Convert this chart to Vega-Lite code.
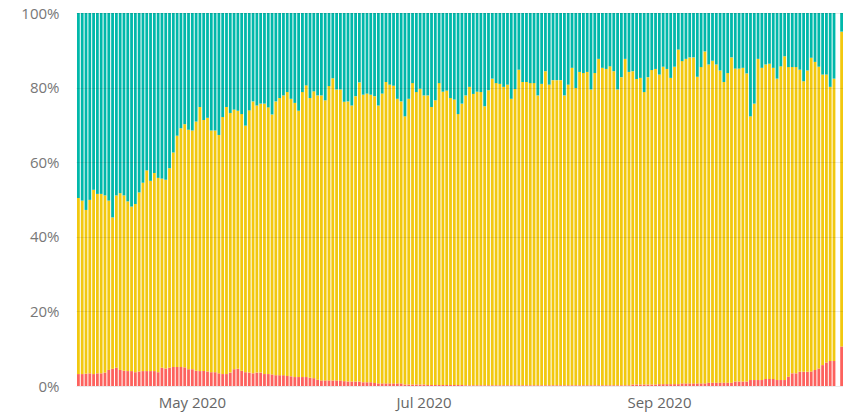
{
  "$schema": "https://vega.github.io/schema/vega-lite/v6.json",
  "autosize": "none",
  "width": 767,
  "height": 373,
  "padding": {"left": 76, "top": 13, "right": 0, "bottom": 28},
  "background": "white",
  "config": {"view": {"stroke": null}, "bar": {"binSpacing": 1}},
  "data": {"values": [
    {"d":"2020-04-01T00:00","s1":3.2,"s2":47.2,"s3":49.6},
    {"d":"2020-04-02T00:00","s1":3.2,"s2":46.5,"s3":50.3},
    {"d":"2020-04-03T00:00","s1":3.3,"s2":43.9,"s3":52.8},
    {"d":"2020-04-04T00:00","s1":3.4,"s2":46.5,"s3":50.1},
    {"d":"2020-04-05T00:00","s1":3.2,"s2":49.4,"s3":47.4},
    {"d":"2020-04-06T00:00","s1":3.4,"s2":48.1,"s3":48.5},
    {"d":"2020-04-07T00:00","s1":3.4,"s2":48.1,"s3":48.5},
    {"d":"2020-04-08T00:00","s1":3.6,"s2":47.5,"s3":48.9},
    {"d":"2020-04-09T00:00","s1":4.3,"s2":45.4,"s3":50.3},
    {"d":"2020-04-10T00:00","s1":4.6,"s2":40.6,"s3":54.8},
    {"d":"2020-04-11T00:00","s1":4.9,"s2":46.2,"s3":48.9},
    {"d":"2020-04-12T00:00","s1":4.3,"s2":47.4,"s3":48.3},
    {"d":"2020-04-13T00:00","s1":4.1,"s2":47.0,"s3":48.9},
    {"d":"2020-04-14T00:00","s1":4.0,"s2":45.5,"s3":50.5},
    {"d":"2020-04-15T00:00","s1":4.0,"s2":44.1,"s3":51.9},
    {"d":"2020-04-16T00:00","s1":3.7,"s2":45.1,"s3":51.2},
    {"d":"2020-04-17T00:00","s1":3.9,"s2":48.0,"s3":48.1},
    {"d":"2020-04-18T00:00","s1":4.0,"s2":50.5,"s3":45.5},
    {"d":"2020-04-19T00:00","s1":4.0,"s2":53.8,"s3":42.2},
    {"d":"2020-04-20T00:00","s1":4.0,"s2":51.0,"s3":45.0},
    {"d":"2020-04-21T00:00","s1":4.0,"s2":53.1,"s3":42.9},
    {"d":"2020-04-22T00:00","s1":3.7,"s2":52.1,"s3":44.2},
    {"d":"2020-04-23T00:00","s1":4.9,"s2":50.7,"s3":44.4},
    {"d":"2020-04-24T00:00","s1":4.7,"s2":50.6,"s3":44.7},
    {"d":"2020-04-25T00:00","s1":4.9,"s2":53.5,"s3":41.6},
    {"d":"2020-04-26T00:00","s1":5.1,"s2":57.5,"s3":37.4},
    {"d":"2020-04-27T00:00","s1":5.1,"s2":62.0,"s3":32.9},
    {"d":"2020-04-28T00:00","s1":5.1,"s2":64.0,"s3":30.9},
    {"d":"2020-04-29T00:00","s1":5.0,"s2":65.2,"s3":29.8},
    {"d":"2020-04-30T00:00","s1":4.5,"s2":64.2,"s3":31.3},
    {"d":"2020-05-01T00:00","s1":4.5,"s2":64.0,"s3":31.5},
    {"d":"2020-05-02T00:00","s1":4.1,"s2":66.8,"s3":29.1},
    {"d":"2020-05-03T00:00","s1":4.0,"s2":70.8,"s3":25.2},
    {"d":"2020-05-04T00:00","s1":4.0,"s2":67.3,"s3":28.7},
    {"d":"2020-05-05T00:00","s1":3.9,"s2":68.0,"s3":28.1},
    {"d":"2020-05-06T00:00","s1":3.7,"s2":64.8,"s3":31.5},
    {"d":"2020-05-07T00:00","s1":3.7,"s2":64.8,"s3":31.5},
    {"d":"2020-05-08T00:00","s1":3.4,"s2":63.9,"s3":32.7},
    {"d":"2020-05-09T00:00","s1":3.2,"s2":68.9,"s3":27.9},
    {"d":"2020-05-10T00:00","s1":3.2,"s2":71.6,"s3":25.2},
    {"d":"2020-05-11T00:00","s1":3.6,"s2":69.6,"s3":26.8},
    {"d":"2020-05-12T00:00","s1":4.5,"s2":69.6,"s3":25.9},
    {"d":"2020-05-13T00:00","s1":4.6,"s2":69.2,"s3":26.2},
    {"d":"2020-05-14T00:00","s1":4.1,"s2":68.8,"s3":27.1},
    {"d":"2020-05-15T00:00","s1":3.7,"s2":66.1,"s3":30.2},
    {"d":"2020-05-16T00:00","s1":3.6,"s2":70.3,"s3":26.1},
    {"d":"2020-05-17T00:00","s1":3.4,"s2":72.9,"s3":23.7},
    {"d":"2020-05-18T00:00","s1":3.6,"s2":71.6,"s3":24.8},
    {"d":"2020-05-19T00:00","s1":3.6,"s2":72.1,"s3":24.3},
    {"d":"2020-05-20T00:00","s1":3.2,"s2":72.5,"s3":24.3},
    {"d":"2020-05-21T00:00","s1":3.2,"s2":71.5,"s3":25.3},
    {"d":"2020-05-22T00:00","s1":3.1,"s2":69.7,"s3":27.2},
    {"d":"2020-05-23T00:00","s1":2.9,"s2":73.4,"s3":23.7},
    {"d":"2020-05-24T00:00","s1":2.9,"s2":74.3,"s3":22.8},
    {"d":"2020-05-25T00:00","s1":2.9,"s2":75.0,"s3":22.1},
    {"d":"2020-05-26T00:00","s1":2.7,"s2":76.1,"s3":21.2},
    {"d":"2020-05-27T00:00","s1":2.6,"s2":74.4,"s3":23.0},
    {"d":"2020-05-28T00:00","s1":2.4,"s2":73.5,"s3":24.1},
    {"d":"2020-05-29T00:00","s1":2.4,"s2":71.4,"s3":26.2},
    {"d":"2020-05-30T00:00","s1":2.4,"s2":76.4,"s3":21.2},
    {"d":"2020-05-31T00:00","s1":2.4,"s2":78.2,"s3":19.4},
    {"d":"2020-06-01T00:00","s1":2.2,"s2":75.0,"s3":22.8},
    {"d":"2020-06-02T00:00","s1":2.1,"s2":76.9,"s3":21.0},
    {"d":"2020-06-03T00:00","s1":1.7,"s2":76.2,"s3":22.1},
    {"d":"2020-06-04T00:00","s1":1.5,"s2":76.4,"s3":22.1},
    {"d":"2020-06-05T00:00","s1":1.5,"s2":75.1,"s3":23.4},
    {"d":"2020-06-06T00:00","s1":1.5,"s2":78.9,"s3":19.6},
    {"d":"2020-06-07T00:00","s1":1.5,"s2":81.0,"s3":17.5},
    {"d":"2020-06-08T00:00","s1":1.5,"s2":78.0,"s3":20.5},
    {"d":"2020-06-09T00:00","s1":1.5,"s2":78.0,"s3":20.5},
    {"d":"2020-06-10T00:00","s1":1.3,"s2":74.9,"s3":23.8},
    {"d":"2020-06-11T00:00","s1":1.2,"s2":75.1,"s3":23.7},
    {"d":"2020-06-12T00:00","s1":1.2,"s2":74.0,"s3":24.8},
    {"d":"2020-06-13T00:00","s1":1.2,"s2":76.5,"s3":22.3},
    {"d":"2020-06-14T00:00","s1":1.2,"s2":80.2,"s3":18.6},
    {"d":"2020-06-15T00:00","s1":1.0,"s2":77.1,"s3":21.9},
    {"d":"2020-06-16T00:00","s1":1.0,"s2":77.4,"s3":21.6},
    {"d":"2020-06-17T00:00","s1":1.0,"s2":77.1,"s3":21.9},
    {"d":"2020-06-18T00:00","s1":0.8,"s2":76.9,"s3":22.3},
    {"d":"2020-06-19T00:00","s1":0.7,"s2":74.5,"s3":24.8},
    {"d":"2020-06-20T00:00","s1":0.7,"s2":77.7,"s3":21.6},
    {"d":"2020-06-21T00:00","s1":0.7,"s2":80.8,"s3":18.5},
    {"d":"2020-06-22T00:00","s1":0.7,"s2":80.1,"s3":19.2},
    {"d":"2020-06-23T00:00","s1":0.7,"s2":79.8,"s3":19.5},
    {"d":"2020-06-24T00:00","s1":0.7,"s2":76.3,"s3":23.0},
    {"d":"2020-06-25T00:00","s1":0.7,"s2":75.6,"s3":23.7},
    {"d":"2020-06-26T00:00","s1":0.4,"s2":71.9,"s3":27.7},
    {"d":"2020-06-27T00:00","s1":0.4,"s2":76.6,"s3":23.0},
    {"d":"2020-06-28T00:00","s1":0.4,"s2":80.8,"s3":18.8},
    {"d":"2020-06-29T00:00","s1":0.4,"s2":78.4,"s3":21.2},
    {"d":"2020-06-30T00:00","s1":0.4,"s2":79.3,"s3":20.3},
    {"d":"2020-07-01T00:00","s1":0.4,"s2":77.5,"s3":22.1},
    {"d":"2020-07-02T00:00","s1":0.3,"s2":77.6,"s3":22.1},
    {"d":"2020-07-03T00:00","s1":0.3,"s2":74.5,"s3":25.2},
    {"d":"2020-07-04T00:00","s1":0.3,"s2":76.3,"s3":23.4},
    {"d":"2020-07-05T00:00","s1":0.3,"s2":80.9,"s3":18.8},
    {"d":"2020-07-06T00:00","s1":0.3,"s2":78.6,"s3":21.1},
    {"d":"2020-07-07T00:00","s1":0.3,"s2":78.9,"s3":20.8},
    {"d":"2020-07-08T00:00","s1":0.3,"s2":76.9,"s3":22.8},
    {"d":"2020-07-09T00:00","s1":0.3,"s2":76.5,"s3":23.2},
    {"d":"2020-07-10T00:00","s1":0.3,"s2":72.6,"s3":27.1},
    {"d":"2020-07-11T00:00","s1":0.3,"s2":75.4,"s3":24.3},
    {"d":"2020-07-12T00:00","s1":0.2,"s2":77.7,"s3":22.1},
    {"d":"2020-07-13T00:00","s1":0.2,"s2":80.0,"s3":19.8},
    {"d":"2020-07-14T00:00","s1":0.2,"s2":78.1,"s3":21.7},
    {"d":"2020-07-15T00:00","s1":0.2,"s2":78.7,"s3":21.1},
    {"d":"2020-07-16T00:00","s1":0.2,"s2":78.6,"s3":21.2},
    {"d":"2020-07-17T00:00","s1":0.2,"s2":74.8,"s3":25.0},
    {"d":"2020-07-18T00:00","s1":0.2,"s2":79.1,"s3":20.7},
    {"d":"2020-07-19T00:00","s1":0.2,"s2":82.2,"s3":17.6},
    {"d":"2020-07-20T00:00","s1":0.2,"s2":81.0,"s3":18.8},
    {"d":"2020-07-21T00:00","s1":0.2,"s2":80.8,"s3":19.0},
    {"d":"2020-07-22T00:00","s1":0.2,"s2":80.0,"s3":19.8},
    {"d":"2020-07-23T00:00","s1":0.2,"s2":80.6,"s3":19.2},
    {"d":"2020-07-24T00:00","s1":0.2,"s2":76.8,"s3":23.0},
    {"d":"2020-07-25T00:00","s1":0.2,"s2":79.4,"s3":20.4},
    {"d":"2020-07-26T00:00","s1":0.2,"s2":84.6,"s3":15.2},
    {"d":"2020-07-27T00:00","s1":0.2,"s2":81.3,"s3":18.5},
    {"d":"2020-07-28T00:00","s1":0.2,"s2":81.3,"s3":18.5},
    {"d":"2020-07-29T00:00","s1":0.2,"s2":81.0,"s3":18.8},
    {"d":"2020-07-30T00:00","s1":0.2,"s2":81.0,"s3":18.8},
    {"d":"2020-07-31T00:00","s1":0.2,"s2":77.7,"s3":22.1},
    {"d":"2020-08-01T00:00","s1":0.2,"s2":80.8,"s3":19.0},
    {"d":"2020-08-02T00:00","s1":0.2,"s2":84.2,"s3":15.6},
    {"d":"2020-08-03T00:00","s1":0.2,"s2":80.6,"s3":19.2},
    {"d":"2020-08-04T00:00","s1":0.2,"s2":81.8,"s3":18.0},
    {"d":"2020-08-05T00:00","s1":0.2,"s2":81.8,"s3":18.0},
    {"d":"2020-08-06T00:00","s1":0.2,"s2":81.8,"s3":18.0},
    {"d":"2020-08-07T00:00","s1":0.2,"s2":77.7,"s3":22.1},
    {"d":"2020-08-08T00:00","s1":0.2,"s2":80.6,"s3":19.2},
    {"d":"2020-08-09T00:00","s1":0.2,"s2":85.1,"s3":14.7},
    {"d":"2020-08-10T00:00","s1":0.2,"s2":79.7,"s3":20.1},
    {"d":"2020-08-11T00:00","s1":0.2,"s2":84.0,"s3":15.8},
    {"d":"2020-08-12T00:00","s1":0.2,"s2":83.7,"s3":16.1},
    {"d":"2020-08-13T00:00","s1":0.2,"s2":84.0,"s3":15.8},
    {"d":"2020-08-14T00:00","s1":0.2,"s2":79.3,"s3":20.5},
    {"d":"2020-08-15T00:00","s1":0.2,"s2":83.7,"s3":16.1},
    {"d":"2020-08-16T00:00","s1":0.2,"s2":87.5,"s3":12.3},
    {"d":"2020-08-17T00:00","s1":0.2,"s2":85.1,"s3":14.7},
    {"d":"2020-08-18T00:00","s1":0.2,"s2":84.8,"s3":15.0},
    {"d":"2020-08-19T00:00","s1":0.2,"s2":85.5,"s3":14.3},
    {"d":"2020-08-20T00:00","s1":0.2,"s2":84.2,"s3":15.6},
    {"d":"2020-08-21T00:00","s1":0.2,"s2":79.3,"s3":20.5},
    {"d":"2020-08-22T00:00","s1":0.2,"s2":82.6,"s3":17.2},
    {"d":"2020-08-23T00:00","s1":0.2,"s2":87.5,"s3":12.3},
    {"d":"2020-08-24T00:00","s1":0.2,"s2":84.0,"s3":15.8},
    {"d":"2020-08-25T00:00","s1":0.4,"s2":84.0,"s3":15.6},
    {"d":"2020-08-26T00:00","s1":0.4,"s2":81.9,"s3":17.7},
    {"d":"2020-08-27T00:00","s1":0.4,"s2":82.2,"s3":17.4},
    {"d":"2020-08-28T00:00","s1":0.4,"s2":78.4,"s3":21.2},
    {"d":"2020-08-29T00:00","s1":0.4,"s2":82.4,"s3":17.2},
    {"d":"2020-08-30T00:00","s1":0.4,"s2":84.3,"s3":15.3},
    {"d":"2020-08-31T00:00","s1":0.4,"s2":84.6,"s3":15.0},
    {"d":"2020-09-01T00:00","s1":0.5,"s2":83.0,"s3":16.5},
    {"d":"2020-09-02T00:00","s1":0.5,"s2":85.1,"s3":14.4},
    {"d":"2020-09-03T00:00","s1":0.5,"s2":84.5,"s3":15.0},
    {"d":"2020-09-04T00:00","s1":0.5,"s2":82.1,"s3":17.4},
    {"d":"2020-09-05T00:00","s1":0.5,"s2":85.1,"s3":14.4},
    {"d":"2020-09-06T00:00","s1":0.5,"s2":89.7,"s3":9.8},
    {"d":"2020-09-07T00:00","s1":0.7,"s2":86.4,"s3":12.9},
    {"d":"2020-09-08T00:00","s1":0.7,"s2":87.0,"s3":12.3},
    {"d":"2020-09-09T00:00","s1":0.7,"s2":87.4,"s3":11.9},
    {"d":"2020-09-10T00:00","s1":0.7,"s2":87.4,"s3":11.9},
    {"d":"2020-09-11T00:00","s1":0.7,"s2":82.2,"s3":17.1},
    {"d":"2020-09-12T00:00","s1":0.7,"s2":84.8,"s3":14.5},
    {"d":"2020-09-13T00:00","s1":0.7,"s2":89.0,"s3":10.3},
    {"d":"2020-09-14T00:00","s1":0.9,"s2":85.3,"s3":13.8},
    {"d":"2020-09-15T00:00","s1":0.9,"s2":86.3,"s3":12.8},
    {"d":"2020-09-16T00:00","s1":0.9,"s2":85.3,"s3":13.8},
    {"d":"2020-09-17T00:00","s1":0.9,"s2":83.7,"s3":15.4},
    {"d":"2020-09-18T00:00","s1":0.9,"s2":80.6,"s3":18.5},
    {"d":"2020-09-19T00:00","s1":0.9,"s2":83.0,"s3":16.1},
    {"d":"2020-09-20T00:00","s1":0.9,"s2":87.2,"s3":11.9},
    {"d":"2020-09-21T00:00","s1":1.2,"s2":83.9,"s3":14.9},
    {"d":"2020-09-22T00:00","s1":1.2,"s2":83.9,"s3":14.9},
    {"d":"2020-09-23T00:00","s1":1.2,"s2":84.1,"s3":14.7},
    {"d":"2020-09-24T00:00","s1":1.2,"s2":82.6,"s3":16.2},
    {"d":"2020-09-25T00:00","s1":1.6,"s2":70.7,"s3":27.7},
    {"d":"2020-09-26T00:00","s1":1.6,"s2":74.1,"s3":24.3},
    {"d":"2020-09-27T00:00","s1":1.6,"s2":86.1,"s3":12.3},
    {"d":"2020-09-28T00:00","s1":1.6,"s2":83.7,"s3":14.7},
    {"d":"2020-09-29T00:00","s1":1.9,"s2":84.3,"s3":13.8},
    {"d":"2020-09-30T00:00","s1":1.9,"s2":84.5,"s3":13.6},
    {"d":"2020-10-01T00:00","s1":1.9,"s2":83.4,"s3":14.7},
    {"d":"2020-10-02T00:00","s1":1.6,"s2":80.8,"s3":17.6},
    {"d":"2020-10-03T00:00","s1":1.6,"s2":84.1,"s3":14.3},
    {"d":"2020-10-04T00:00","s1":1.6,"s2":86.8,"s3":11.6},
    {"d":"2020-10-05T00:00","s1":2.5,"s2":83.0,"s3":14.5},
    {"d":"2020-10-06T00:00","s1":3.4,"s2":82.1,"s3":14.5},
    {"d":"2020-10-07T00:00","s1":3.4,"s2":82.1,"s3":14.5},
    {"d":"2020-10-08T00:00","s1":3.8,"s2":81.0,"s3":15.2},
    {"d":"2020-10-09T00:00","s1":3.8,"s2":77.9,"s3":18.3},
    {"d":"2020-10-10T00:00","s1":3.8,"s2":80.8,"s3":15.4},
    {"d":"2020-10-11T00:00","s1":3.9,"s2":84.1,"s3":12.0},
    {"d":"2020-10-12T00:00","s1":4.3,"s2":82.6,"s3":13.1},
    {"d":"2020-10-13T00:00","s1":4.7,"s2":80.9,"s3":14.4},
    {"d":"2020-10-14T00:00","s1":5.6,"s2":77.9,"s3":16.5},
    {"d":"2020-10-15T00:00","s1":6.3,"s2":77.2,"s3":16.5},
    {"d":"2020-10-16T00:00","s1":6.7,"s2":73.5,"s3":19.8},
    {"d":"2020-10-17T00:00","s1":6.7,"s2":75.7,"s3":17.6},
    {"d":"2020-10-19T00:00","s1":10.6,"s2":84.4,"s3":5.0}
  ]},
  "transform": [{"fold": ["s1", "s2", "s3"], "as": ["series", "share"]}],
  "mark": {"type": "bar"},
  "encoding": {
    "x": {
      "field": "d", "type": "temporal", "timeUnit": "yearmonthdate", "title": null,
      "axis": {
        "values": [{"year": 2020, "month": 5, "date": 1}, {"year": 2020, "month": 7, "date": 1}, {"year": 2020, "month": 9, "date": 1}],
        "format": "%b %Y", "domain": false, "ticks": false, "grid": false,
        "labelPadding": 9, "labelOffset": 2, "labelFont": "Open Sans", "labelFontSize": 15,
        "labelColor": "#666666", "labelAlign": "center"
      }
    },
    "y": {
      "field": "share", "type": "quantitative", "aggregate": "sum", "stack": "normalize", "title": null,
      "scale": {"domain": [0, 1], "nice": false},
      "axis": {
        "values": [0, 0.2, 0.4, 0.6, 0.8, 1], "format": ".0%", "domain": false, "ticks": false,
        "labelPadding": 17, "labelFont": "Open Sans", "labelFontSize": 15, "labelColor": "#777777",
        "grid": true, "gridColor": "#000000", "gridOpacity": 0.08, "zindex": 1
      }
    },
    "color": {
      "field": "series", "type": "nominal", "legend": null,
      "scale": {"domain": ["s1", "s2", "s3"], "range": ["#FD625E", "#F2C80F", "#01B8AA"]}
    },
    "order": {"field": "series", "type": "nominal"}
  }
}
